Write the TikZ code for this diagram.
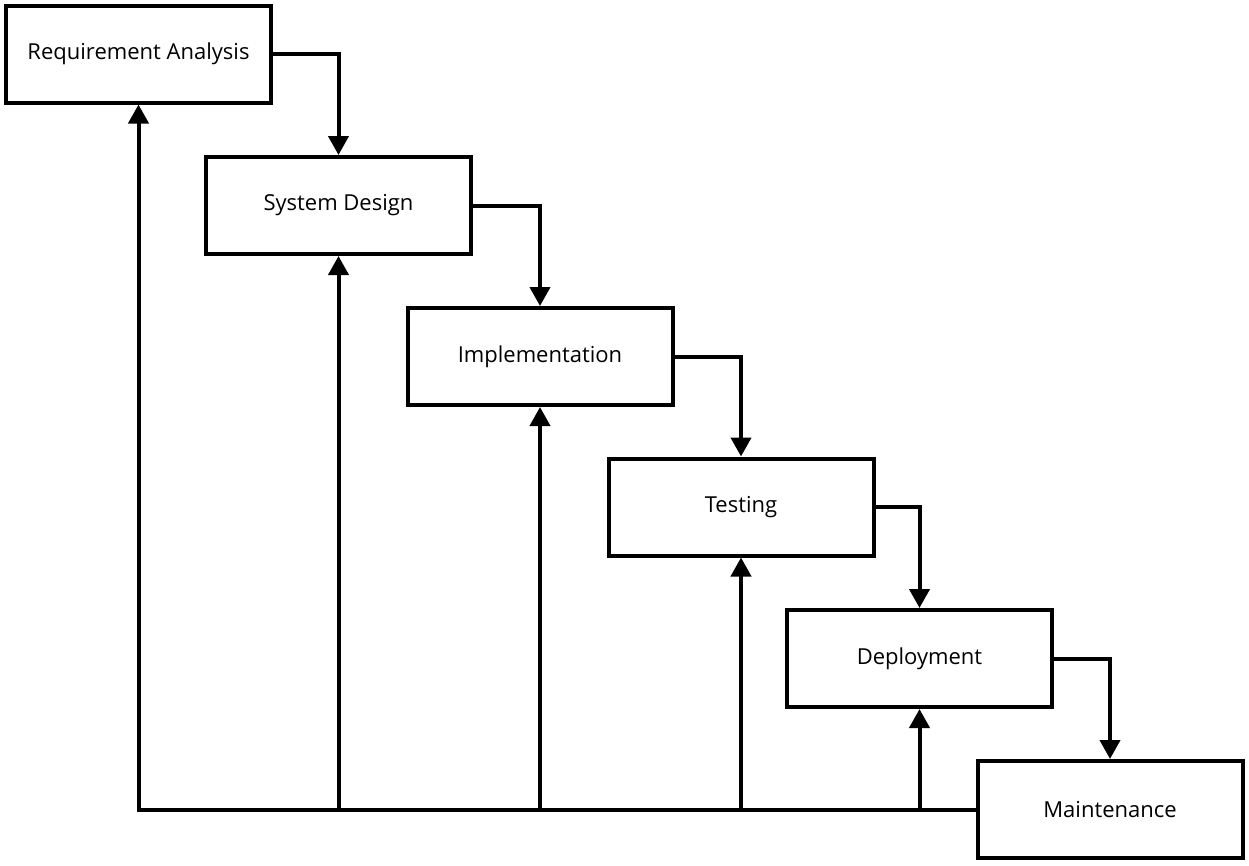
\documentclass[tikz,border=0pt]{standalone}
\usepackage{fontspec}
\setmainfont{Open Sans}
\usetikzlibrary{arrows.meta}
\begin{document}
\begin{tikzpicture}[x=1pt,y=-1pt,
  phase/.style={draw=black, line width=4pt, fill=white, minimum width=265pt,
    minimum height=97pt, inner sep=0pt, font=\fontsize{22}{26}\selectfont},
  flow/.style={line width=4pt, -{Triangle[length=19pt,width=20pt]}},
  bus/.style={line width=4pt}]
  \useasboundingbox (0,0) rectangle (1249,865);
  % waterfall phases
  \node[phase] (ra)  at (138.5,54)  {Requirement Analysis};
  \node[phase] (sd)  at (338.5,205.5) {System Design};
  \node[phase] (imp) at (540,356.5) {Implementation};
  \node[phase] (tst) at (741,507)   {Testing};
  \node[phase] (dep) at (919.5,658.5) {Deployment};
  \node[phase] (mnt) at (1110,809.5) {Maintenance};
  % forward flow
  \draw[flow] (ra.east)  -| (sd.north);
  \draw[flow] (sd.east)  -| (imp.north);
  \draw[flow] (imp.east) -| (tst.north);
  \draw[flow] (tst.east) -| (dep.north);
  \draw[flow] (dep.east) -| (mnt.north);
  % feedback bus
  \coordinate (b1) at (mnt.west -| sd.south);
  \coordinate (b2) at (mnt.west -| imp.south);
  \coordinate (b3) at (mnt.west -| tst.south);
  \coordinate (b4) at (mnt.west -| dep.south);
  \draw[flow] (mnt.west) -| (ra.south);
  \draw[flow] (b1) -- (sd.south);
  \draw[flow] (b2) -- (imp.south);
  \draw[flow] (b3) -- (tst.south);
  \draw[flow] (b4) -- (dep.south);
\end{tikzpicture}
\end{document}
